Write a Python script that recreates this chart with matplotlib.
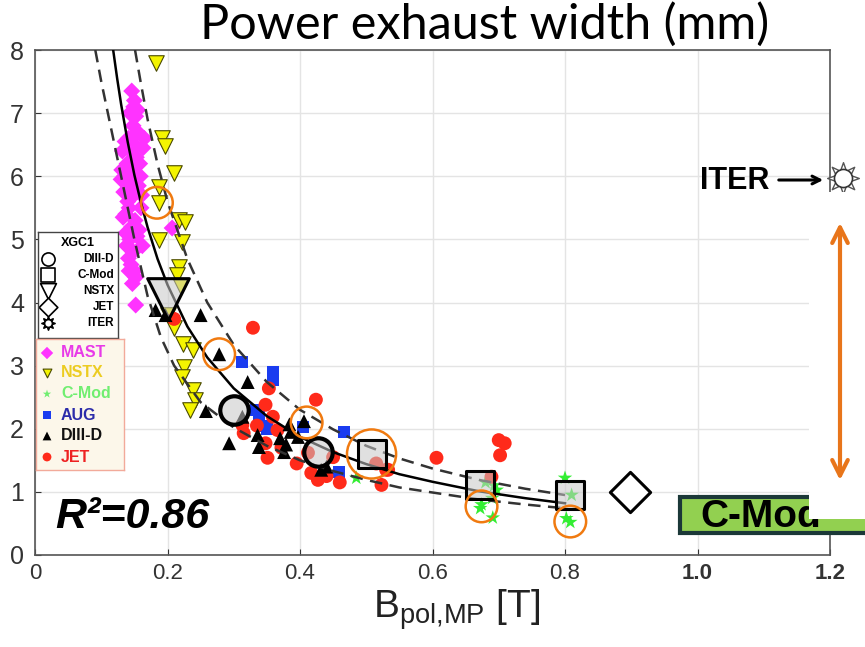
import matplotlib
matplotlib.use("Agg")
import matplotlib.pyplot as plt
from matplotlib.patches import Rectangle, FancyArrowPatch

plt.rcParams['font.family'] = ['Liberation Sans', 'DejaVu Sans']
plt.rcParams['mathtext.fontset'] = 'custom'
plt.rcParams['mathtext.rm'] = 'Liberation Sans'
plt.rcParams['mathtext.it'] = 'Liberation Sans:italic'

W, H = 865, 647

# ---------------- data ----------------
mast_x = [0.146, 0.150, 0.143, 0.152, 0.148, 0.141, 0.155, 0.150, 0.144, 0.139, 0.147, 0.153,
          0.158, 0.145, 0.140, 0.149, 0.156, 0.142, 0.137, 0.151, 0.146, 0.160, 0.143, 0.138,
          0.154, 0.148, 0.141, 0.157, 0.145, 0.150, 0.162, 0.144, 0.152, 0.207, 0.152, 0.147,
          0.140, 0.135, 0.136, 0.163, 0.149, 0.132, 0.131, 0.134, 0.130, 0.159, 0.165, 0.161,
          0.137, 0.133, 0.155, 0.142]
mast_y = [7.35, 7.20, 7.00, 6.95, 6.80, 6.60, 6.70, 6.50, 6.40, 6.20, 6.10, 6.30,
          6.20, 5.90, 5.80, 5.70, 5.85, 5.50, 5.40, 5.30, 5.20, 5.50, 5.00, 4.90,
          5.05, 4.80, 4.70, 5.15, 4.60, 4.50, 4.90, 4.85, 4.40, 5.18, 3.96, 4.30,
          5.60, 6.00, 6.55, 6.45, 7.10, 6.40, 6.10, 5.75, 5.95, 6.00, 6.60, 5.70,
          5.10, 5.35, 7.05, 4.50]

nstx_x = [0.182, 0.192, 0.196, 0.210, 0.187, 0.187, 0.217, 0.226, 0.187, 0.222, 0.217, 0.214,
          0.220, 0.210, 0.224, 0.238, 0.225, 0.222, 0.238, 0.242, 0.234, 0.200]
nstx_y = [7.80, 6.60, 6.48, 6.05, 5.83, 5.58, 5.31, 5.28, 4.99, 4.96, 4.56, 4.43,
          4.25, 3.60, 3.35, 3.25, 2.98, 2.82, 2.62, 2.45, 2.30, 3.80]

cmod_x = [0.800, 0.808, 0.802, 0.674, 0.672, 0.691, 0.697, 0.693, 0.485, 0.690, 0.810, 0.680]
cmod_y = [1.22, 0.52, 0.58, 0.80, 0.74, 0.59, 1.03, 1.10, 1.22, 0.90, 0.95, 1.15]

aug_x = [0.313, 0.359, 0.359, 0.333, 0.338, 0.345, 0.404, 0.467, 0.459, 0.350]
aug_y = [3.06, 2.90, 2.77, 2.30, 2.19, 2.05, 2.03, 1.95, 1.32, 2.00]

diiid_x = [0.182, 0.197, 0.250, 0.258, 0.278, 0.293, 0.313, 0.321, 0.336, 0.338, 0.376, 0.379,
           0.384, 0.386, 0.397, 0.406, 0.432, 0.440, 0.370]
diiid_y = [3.88, 3.80, 3.80, 2.28, 3.18, 1.77, 2.19, 2.74, 1.90, 1.71, 1.63, 1.75,
           2.07, 1.95, 1.87, 2.12, 1.35, 1.40, 1.85]

jet_x = [0.329, 0.353, 0.348, 0.359, 0.424, 0.366, 0.315, 0.348, 0.351, 0.412, 0.417, 0.427,
         0.450, 0.523, 0.530, 0.606, 0.700, 0.709, 0.702, 0.689, 0.533, 0.313, 0.335, 0.372,
         0.395, 0.440, 0.460, 0.210, 0.515]
jet_y = [3.60, 2.64, 2.38, 2.19, 2.46, 1.98, 1.93, 1.77, 1.54, 1.62, 1.30, 1.19,
         1.55, 1.11, 1.35, 1.54, 1.82, 1.77, 1.58, 1.24, 1.35, 2.06, 2.05, 1.70,
         1.45, 1.25, 1.15, 3.74, 1.45]

# XGC1 simulation points
xgc_diiid_x = [0.300, 0.427]
xgc_diiid_y = [2.30, 1.63]
xgc_cmod_x = [0.508, 0.671, 0.808]
xgc_cmod_y = [1.60, 1.11, 0.95]
xgc_nstx_x = [0.200]
xgc_nstx_y = [4.05]
xgc_jet_x = [0.898]
xgc_jet_y = [1.00]
iter_x = [1.22]
iter_y = [5.97]

# highlighted (orange circles)
hl_x = [0.184, 0.278, 0.410, 0.674, 0.808]
hl_y = [5.58, 3.18, 2.10, 0.77, 0.53]
hl_big_x = [0.508]
hl_big_y = [1.60]

# fit curve and band
fit_x = [0.118, 0.124, 0.13, 0.14, 0.15, 0.16, 0.17, 0.185, 0.20, 0.23, 0.26, 0.30, 0.35,
         0.40, 0.45, 0.50, 0.55, 0.60, 0.67, 0.74, 0.80]
fit_y = [8.00, 7.55, 7.14, 6.54, 6.02, 5.58, 5.19, 4.69, 4.28, 3.62, 3.13, 2.64, 2.20,
         1.87, 1.63, 1.44, 1.28, 1.16, 1.01, 0.90, 0.82]
up_x = [0.151, 0.16, 0.17, 0.185, 0.20, 0.23, 0.26, 0.30, 0.35, 0.40, 0.45, 0.50, 0.55,
        0.60, 0.67, 0.74, 0.80]
up_y = [8.00, 7.46, 6.90, 6.19, 5.60, 4.69, 4.00, 3.33, 2.74, 2.30, 1.99, 1.73, 1.53,
        1.37, 1.19, 1.05, 0.95]
lo_x = [0.091, 0.10, 0.115, 0.13, 0.15, 0.17, 0.19, 0.21, 0.25, 0.30, 0.35, 0.40, 0.45,
        0.50, 0.55, 0.60, 0.67, 0.74, 0.80]
lo_y = [8.00, 7.50, 6.75, 6.00, 5.00, 4.10, 3.45, 3.00, 2.42, 2.02, 1.73, 1.50, 1.33,
        1.19, 1.07, 0.99, 0.88, 0.80, 0.74]

xticks = [0, 0.2, 0.4, 0.6, 0.8, 1.0, 1.2]
xtick_labels = ['0', '0.2', '0.4', '0.6', '0.8', '1.0', '1.2']
yticks = [0, 1, 2, 3, 4, 5, 6, 7, 8]
ytick_labels = ['0', '1', '2', '3', '4', '5', '6', '7', '8']

# ---------------- figure ----------------
def fx(px):
    return px / W

def fy(py):
    return 1 - py / H

fig = plt.figure(figsize=(W / 100, H / 100), dpi=100)
ax = fig.add_axes([fx(35), fy(555), (830 - 35) / W, (555 - 50) / H])
ax.set_xlim(0, 1.2)
ax.set_ylim(0, 8)
ax.set_xticks(xticks)
ax.set_xticklabels(xtick_labels, fontsize=16)
ax.set_yticks(yticks)
ax.set_yticklabels(ytick_labels, fontsize=18)
for lab in ax.get_xticklabels()[-2:]:
    lab.set_fontweight('bold')
ax.tick_params(direction='in', length=4, width=0.8, colors='#333333', pad=6)
ax.tick_params(axis='y', pad=8)
for s in ax.spines.values():
    s.set_color('#555555')
    s.set_linewidth(1.2)
ax.grid(True, color='#e4e4e4', lw=1.0)
ax.set_axisbelow(True)

# curves
ax.plot(fit_x, fit_y, color='black', lw=1.8, zorder=4)
ax.plot(up_x, up_y, color='#333333', lw=1.8, ls=(0, (5, 3)), zorder=4)
ax.plot(lo_x, lo_y, color='#333333', lw=1.8, ls=(0, (5, 3)), zorder=4)

# experimental data
ax.scatter(mast_x, mast_y, marker='D', s=75, color='#ff33ff', edgecolors='none', zorder=3)
ax.scatter(nstx_x, nstx_y, marker='v', s=125, color='#f4f400', edgecolors='#4a4a00', linewidths=0.8, zorder=3)
ax.scatter(cmod_x, cmod_y, marker='*', s=120, color='#33ee33', edgecolors='none', zorder=3)
ax.scatter(aug_x, aug_y, marker='s', s=75, color='#1a3cf0', edgecolors='none', zorder=3)
ax.scatter(jet_x, jet_y, marker='o', s=100, color='#ff2a1a', edgecolors='none', zorder=3)
ax.scatter(diiid_x, diiid_y, marker='^', s=100, color='black', edgecolors='none', zorder=3)

# XGC1 points
xgc_face = (0.78, 0.78, 0.78, 0.55)
ax.scatter(xgc_diiid_x, xgc_diiid_y, marker='o', s=420, facecolors=xgc_face, edgecolors='black', linewidths=3, zorder=5)
ax.scatter(xgc_cmod_x, xgc_cmod_y, marker='s', s=420, facecolors=xgc_face, edgecolors='black', linewidths=2.2, zorder=5)
ax.scatter(xgc_nstx_x, xgc_nstx_y, marker='v', s=900, facecolors=xgc_face, edgecolors='black', linewidths=2.2, zorder=5)
ax.scatter(xgc_jet_x, xgc_jet_y, marker='D', s=420, facecolors='white', edgecolors='black', linewidths=2.2, zorder=5)

# orange highlight circles
ax.scatter(hl_x, hl_y, marker='o', s=520, facecolors='none', edgecolors='#f07a10', linewidths=1.8, zorder=6)
ax.scatter(hl_big_x, hl_big_y, marker='o', s=1250, facecolors='none', edgecolors='#f07a10', linewidths=1.8, zorder=6)

# ITER point (outside the frame)
ax.scatter(iter_x, iter_y, marker=(8, 1, 0), s=520, facecolors='white', edgecolors='#555555',
           linewidths=1.0, zorder=7, clip_on=False)
ax.scatter(iter_x, iter_y, marker='o', s=170, facecolors='white', edgecolors='#333333',
           linewidths=1.2, zorder=8, clip_on=False)

# ---------------- overlays ----------------
# C-Mod box
fig.patches.append(Rectangle((fx(680), fy(533)), (900 - 680) / W, 36 / H, transform=fig.transFigure,
                             facecolor='#92d050', edgecolor='#1b3838', lw=3, zorder=2))
fig.text(fx(700), fy(517), 'C-Mod', fontsize=28, fontweight='bold', color='black',
         ha='left', va='center', zorder=2.5)
# white cover box on the right
fig.patches.append(Rectangle((fx(809), fy(519)), (W - 809 + 5) / W, (519 - 192) / H,
                             transform=fig.transFigure, facecolor='white', edgecolor='none', zorder=3))
# orange double arrow
fig.add_artist(FancyArrowPatch((fx(840), fy(483)), (fx(840), fy(220)),
               transform=fig.transFigure, arrowstyle='<->', mutation_scale=28,
               color='#e8751a', lw=3, zorder=4))
# ITER label with arrow
fig.text(fx(700), fy(181), 'ITER', fontsize=22, fontweight='bold', ha='left', va='center', zorder=4)
fig.add_artist(FancyArrowPatch((fx(776), fy(180)), (fx(826), fy(180)),
               transform=fig.transFigure, arrowstyle='->', mutation_scale=14,
               color='black', lw=2.2, zorder=4))

# title and labels
fig.text(fx(485), fy(24), 'Power exhaust width (mm)', fontsize=35, family='Lato',
         ha='center', va='center')
fig.text(fx(457), fy(610), r'B$_{\mathrm{pol{,}MP}}$ [T]', fontsize=28, color='#222222',
         ha='center', va='center')
fig.text(fx(55), fy(517), 'R\u00b2=0.86', fontsize=31, fontweight='bold', fontstyle='italic',
         ha='left', va='center')

# ---------------- legend boxes ----------------
lg1 = fig.add_axes([fx(38), fy(338), 80 / W, 106 / H])
lg1.set_xlim(38, 118)
lg1.set_ylim(338, 232)
lg1.set_xticks([]); lg1.set_yticks([])
for s in lg1.spines.values():
    s.set_color('#444444'); s.set_linewidth(1.0)
lg1.text(78, 243, 'XGC1', fontsize=9, fontweight='bold', ha='center', va='center')
lg1_names = ['DIII-D', 'C-Mod', 'NSTX', 'JET', 'ITER']
lg1_marks = ['o', 's', 'v', 'D', (8, 1, 0)]
lg1_ys = [259, 275, 291, 307, 323]
for nm, mk, yy in zip(lg1_names, lg1_marks, lg1_ys):
    lg1.text(114, yy, nm, fontsize=8.5, fontweight='bold', ha='right', va='center')
    lg1.scatter([48], [yy], marker=mk, s=90 if mk != 'v' else 130, facecolors='white',
                edgecolors='black', linewidths=1.2, clip_on=False)
lg1.scatter([48], [323], marker='o', s=30, facecolors='white', edgecolors='black', linewidths=1.0)

lg2 = fig.add_axes([fx(36), fy(470), 88 / W, 131 / H])
lg2.set_xlim(36, 124)
lg2.set_ylim(470, 339)
lg2.set_xticks([]); lg2.set_yticks([])
lg2.set_facecolor('#fcf7ea')
for s in lg2.spines.values():
    s.set_color('#f2aa9a'); s.set_linewidth(1.0)
lg2_names = ['MAST', 'NSTX', 'C-Mod', 'AUG', 'DIII-D', 'JET']
lg2_text_colors = ['#e83ae8', '#eccc22', '#70ee70', '#2c2caa', '#111111', '#ee2222']
lg2_mark_colors = ['#ff33ff', '#f4f400', '#70ee70', '#1a3cf0', 'black', '#ff2a1a']
lg2_marks = ['D', 'v', '*', 's', '^', 'o']
lg2_ys = [353, 373, 394, 415, 436, 457]
for nm, tc, mc, mk, yy in zip(lg2_names, lg2_text_colors, lg2_mark_colors, lg2_marks, lg2_ys):
    lg2.text(61, yy, nm, fontsize=11.5, fontweight='bold', color=tc, ha='left', va='center')
    lg2.scatter([47], [yy], marker=mk, s=40, color=mc,
                edgecolors='#4a4a00' if mk == 'v' else 'none', linewidths=0.8)

fig.savefig('out.png', dpi=100)
